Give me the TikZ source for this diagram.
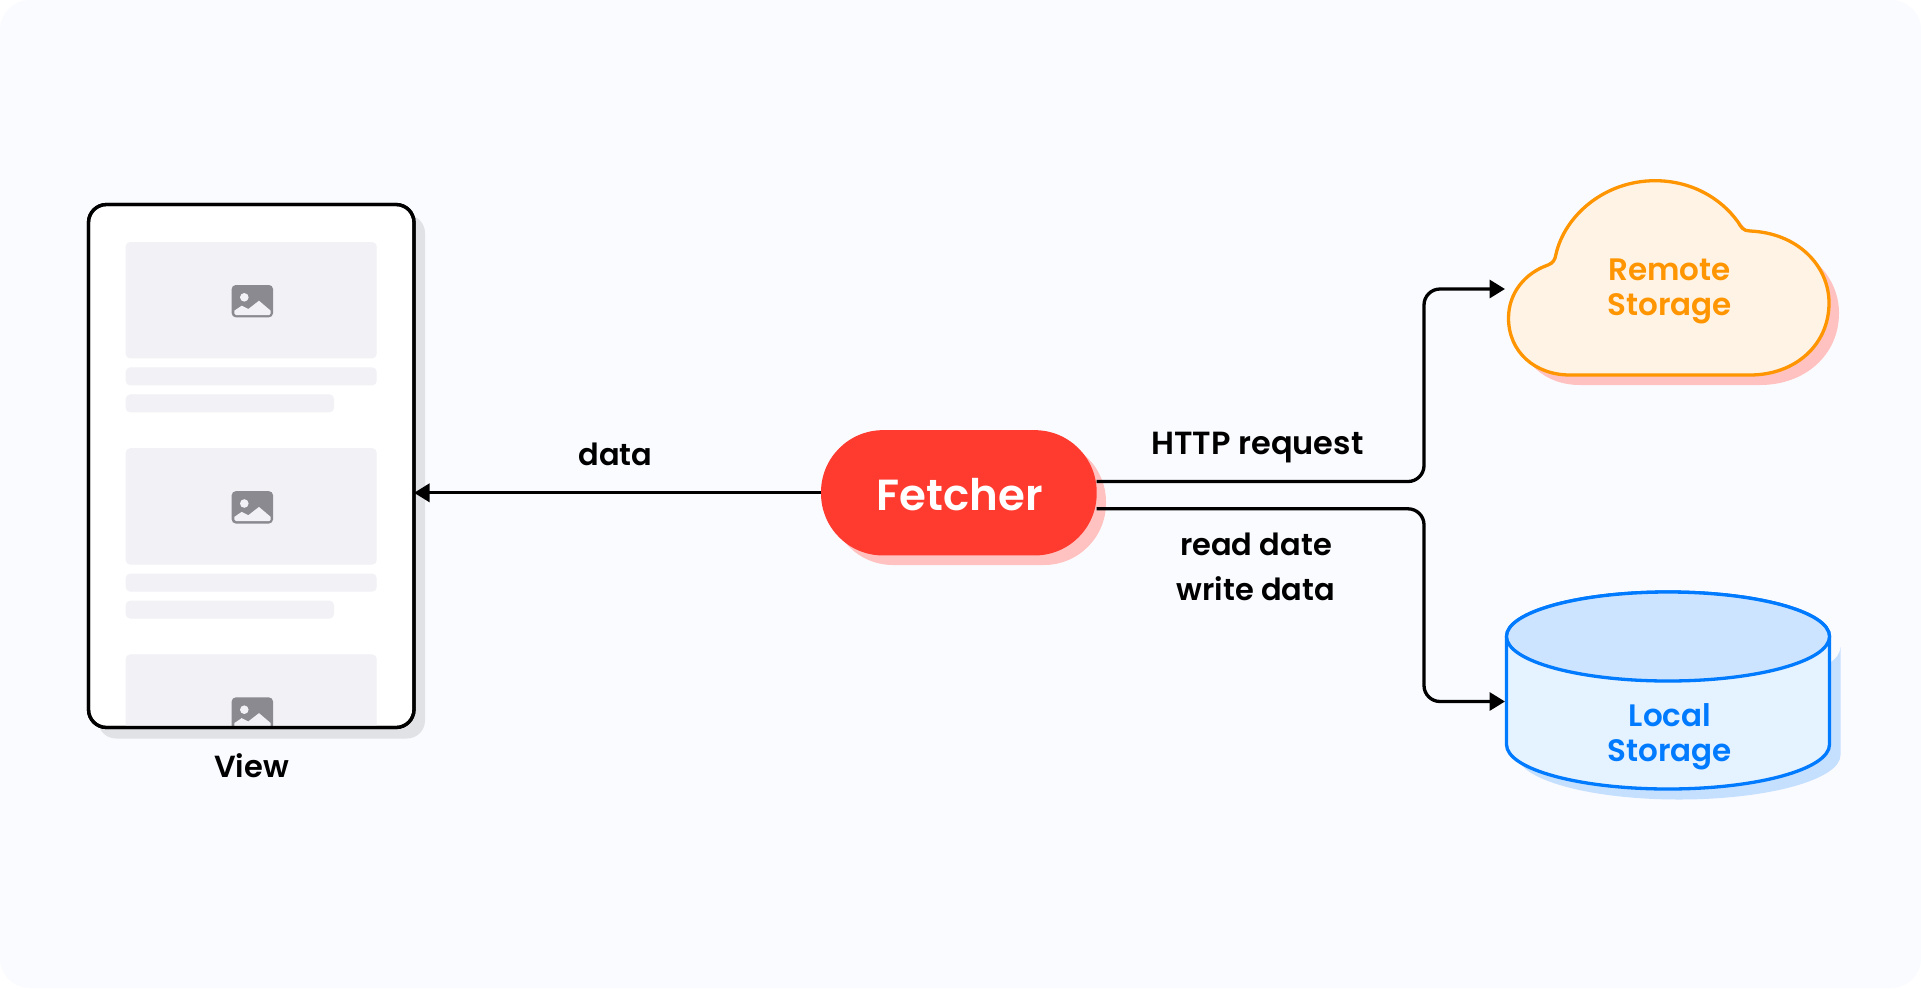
\documentclass[tikz,border=0pt]{standalone}
\usepackage{fontspec}
\setmainfont{Poppins}[UprightFont=* Medium,BoldFont=* SemiBold]
\usetikzlibrary{arrows.meta}
\definecolor{pagebg}{HTML}{FAFBFF}
\definecolor{phoneshadow}{HTML}{E1E2E6}
\definecolor{placeholder}{HTML}{F1F1F6}
\definecolor{icongray}{HTML}{8A8A90}
\definecolor{fetchred}{HTML}{FF3B30}
\definecolor{redshadow}{HTML}{FFC2C0}
\definecolor{cloudline}{HTML}{FF9500}
\definecolor{cloudfill}{HTML}{FFF3E5}
\definecolor{dbline}{HTML}{007AFF}
\definecolor{dbside}{HTML}{E5F2FF}
\definecolor{dbtop}{HTML}{CCE4FF}
\definecolor{dbshadow}{HTML}{C5DFFF}
\tikzset{
  lab/.style={anchor=base,inner sep=0pt,outer sep=0pt,font=\fontsize{30.5}{31}\selectfont\bfseries},
  stor/.style={anchor=base,inner sep=0pt,outer sep=0pt,font=\fontsize{31}{31}\selectfont\bfseries},
  conn/.style={line width=3.3pt,draw=black,rounded corners=16pt},
  tip/.style={-{Triangle[length=15.5pt,width=18pt]}},
  bar/.style={fill=placeholder,rounded corners=4.5pt},
}
\begin{document}
\begin{tikzpicture}[x=1pt,y=-1pt]
\useasboundingbox (0,0) rectangle (1921,988);
\fill[white] (0,0) rectangle (1921,988);
\fill[pagebg,rounded corners=30pt] (0,0) rectangle (1921,988);
% phone
\fill[phoneshadow,rounded corners=18pt] (98,215) rectangle (425,738.5);
\node[draw=black,fill=white,line width=3.3pt,rounded corners=18pt,inner sep=0pt,outer sep=0pt,
  minimum width=325.5pt,minimum height=523pt] (phone) at (251.25,466) {};
\begin{scope}
\clip[rounded corners=18pt] (88.5,204.5) rectangle (414,727.5);
\foreach \d in {0,206.2,412.4}{
  \begin{scope}[shift={(0,\d)}]
  \fill[bar] (125.7,242) rectangle (376.7,358.4);
  \fill[bar] (125.7,367.4) rectangle (376.7,385.4);
  \fill[bar] (125.7,394.4) rectangle (334,412.4);
  \fill[icongray,rounded corners=4pt] (231.7,285) rectangle (273,317.3);
  \fill[placeholder] (244.3,297.3) circle (4.3);
  \fill[placeholder] (234.3,310.7) -- (241.7,305.7) -- (248.3,309) -- (259,300.7) -- (270.7,310.7)
    -- (270.7,313.3) -- (269.3,315) -- (236,315) -- (234.3,313.3) -- cycle;
  \end{scope}
}
\end{scope}
\draw[black,line width=3.3pt,rounded corners=18pt] (88.5,204.5) rectangle (414,727.5);
\node[lab] (viewlabel) at (251.5,777.7) {View};
% fetcher
\fill[redshadow,rounded corners=62pt] (831,440) rectangle (1106,565);
\node[fill=fetchred,text=white,rounded corners=62pt,inner sep=0pt,outer sep=0pt,
  minimum width=275.7pt,minimum height=125.3pt,text height=35.3pt,text depth=0pt,
  font=\fontsize{43.5}{44}\selectfont\bfseries] (fetcher) at (958.85,492.8) {\hspace*{2pt}Fetcher};
% connectors
\coordinate (cloudin) at (1505,289);
\coordinate (dbin) at (1505,701.5);
\coordinate (bendA) at (1424,481.5);
\coordinate (bendB) at (1424,508.8);
\draw[conn,tip] (fetcher.west) -- (fetcher.west -| phone.east);
\draw[conn,tip] (fetcher.east |- bendA) -- (bendA) -- (bendA |- cloudin) -- (cloudin);
\draw[conn,tip] (fetcher.east |- bendB) -- (bendB) -- (bendB |- dbin) -- (dbin);
\node[lab] (datalabel) at (615.3,465.7) {data};
\node[lab,font=\fontsize{32}{32}\selectfont\bfseries] (httplabel) at (1257.5,454.5) {HTTP request};
\node[lab] (readlabel) at (1256,555.7) {read date};
\node[lab] (writelabel) at (1256,600.7) {write data};
% cloud
\def\cloudpath{(1570,375) -- (1750,375)
  .. controls (1795,375) and (1829,345) .. (1829,303)
  .. controls (1829,266) and (1798,233) .. (1750,231)
  .. controls (1743,231) and (1741,227) .. (1738,222)
  .. controls (1720,197) and (1690,180.7) .. (1655,180.7)
  .. controls (1605,180.7) and (1565,215) .. (1556,254)
  .. controls (1555,260) and (1553,263) .. (1548,265)
  .. controls (1525,273) and (1508.5,293) .. (1508.5,318)
  .. controls (1508.5,352) and (1535,375) .. (1570,375) -- cycle}
\fill[redshadow,shift={(10,10)}] \cloudpath;
\draw[cloudline,fill=cloudfill,line width=3.3pt] \cloudpath;
\node[stor,text=cloudline] (remote1) at (1669.5,280) {Remote};
\node[stor,text=cloudline] (remote2) at (1669.5,315) {Storage};
% cylinder
\fill[dbshadow] (1517.5,647) arc[start angle=180,end angle=0,x radius=161.5,y radius=44.5]
  -- (1840.5,755) arc[start angle=0,end angle=180,x radius=161.5,y radius=44.5] -- cycle;
\draw[dbline,fill=dbside,line width=3.3pt] (1506.5,636.5) -- (1506.5,744.5)
  arc[start angle=180,delta angle=180,x radius=161.5,y radius=-44.5] -- (1829.5,636.5)
  arc[start angle=0,delta angle=180,x radius=161.5,y radius=-44.5] -- cycle;
\draw[dbline,fill=dbtop,line width=3.3pt] (1668,636.5) ellipse[x radius=161.5,y radius=44.5];
\node[stor,text=dbline] (local1) at (1670,726) {Local};
\node[stor,text=dbline] (local2) at (1669.5,761.5) {Storage};
\end{tikzpicture}
\end{document}
